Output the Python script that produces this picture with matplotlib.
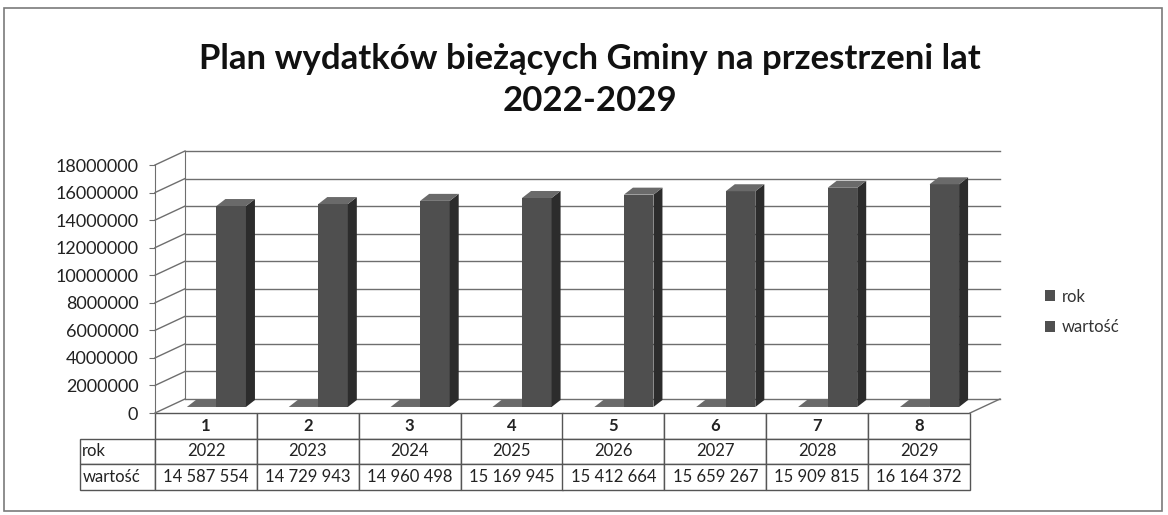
import numpy as np
import matplotlib
matplotlib.use('Agg')
from matplotlib import pyplot as plt
from matplotlib.patches import Polygon, Rectangle, Patch
from matplotlib.transforms import offset_copy

plt.rcParams['font.family'] = ['Lato', 'DejaVu Sans']

# data from the chart
categories = ['1', '2', '3', '4', '5', '6', '7', '8']
years = [2022, 2023, 2024, 2025, 2026, 2027, 2028, 2029]
values = [14587554, 14729943, 14960498, 15169945, 15412664, 15659267, 15909815, 16164372]
value_labels = ['14 587 554', '14 729 943', '14 960 498', '15 169 945',
                '15 412 664', '15 659 267', '15 909 815', '16 164 372']
series_names = ['rok', 'wartość']
yticks = list(range(0, 18000001, 2000000))

W, H = 1168, 515
fig = plt.figure(figsize=(W / 100, H / 100), dpi=100)
ax_l, ax_b, ax_w, ax_h = 155, 102, 815, 248
ax = fig.add_axes([ax_l / W, ax_b / H, ax_w / W, ax_h / H])
ymax = 18000000
ax.set_xlim(0, len(categories))
ax.set_ylim(0, ymax)

# pixel -> data conversions
sx = len(categories) / ax_w
sy = ymax / ax_h

grid_col = '#6e6e6e'
# back wall (offset up/right for the 3D look)
wdx, wdy = 30 * sx, 14 * sy
for v in yticks:
    ax.plot([wdx, len(categories) + wdx], [v + wdy, v + wdy], color=grid_col, lw=1.0, clip_on=False, zorder=1)
    ax.plot([0, wdx], [v, v + wdy], color=grid_col, lw=1.0, clip_on=False, zorder=1)
ax.plot([wdx, wdx], [wdy, ymax + wdy], color=grid_col, lw=0.8, clip_on=False, zorder=1)
ax.plot([len(categories), len(categories) + wdx], [0, wdy], color=grid_col, lw=1.0, clip_on=False, zorder=1)

# bars at middle depth
bar_tr = offset_copy(ax.transData, fig=fig, x=12, y=6, units='dots')
dsx, dsy = 9 * sx, 7 * sy
width = 0.29
x = np.arange(len(categories)) + 0.5
front_col, side_col, top_col = '#4f4f4f', '#2c2c2c', '#6a6a6a'
for off, heights in [(-0.16, years), (0.13, values)]:
    xs = x + off
    ax.bar(xs, heights, width=width, color=front_col, edgecolor='none', transform=bar_tr, zorder=3, clip_on=False)
    for xc, h in zip(xs, heights):
        x0, x1 = xc - width / 2, xc + width / 2
        ax.add_patch(Polygon([(x1, 0), (x1, h), (x1 + dsx, h + dsy), (x1 + dsx, dsy)],
                             closed=True, fc=side_col, ec='none', transform=bar_tr, zorder=3, clip_on=False))
        ax.add_patch(Polygon([(x0, h), (x1, h), (x1 + dsx, h + dsy), (x0 + dsx, h + dsy)],
                             closed=True, fc=top_col, ec='none', transform=bar_tr, zorder=3, clip_on=False))

# axis styling
for s in ['top', 'right', 'bottom']:
    ax.spines[s].set_visible(False)
ax.spines['left'].set_color(grid_col)
ax.set_yticks(yticks)
ax.set_yticklabels([str(v) for v in yticks], fontsize=13, color='#222222')
ax.tick_params(axis='y', length=4, color=grid_col, pad=8)
ax.set_xticks([])
ax.patch.set_alpha(0)

# data table under the plot
lab_w = 75
tab = ax.table(cellText=[['rok'] + [str(y) for y in years], ['wartość'] + value_labels],
               colLabels=[''] + categories,
               colWidths=[lab_w] + [ax_w / len(categories)] * len(categories),
               cellLoc='center',
               bbox=[-lab_w / ax_w, -77 / ax_h, 1 + lab_w / ax_w, 77 / ax_h])
tab.auto_set_font_size(False)
tab.set_fontsize(12)
for (r, c), cell in tab.get_celld().items():
    cell.set_edgecolor('#555555')
    cell.set_linewidth(1.0)
    cell.get_text().set_color('#222222')
    if r == 0:
        cell.get_text().set_fontweight('bold')
    if c == 0:
        cell.get_text().set_horizontalalignment('left')
        cell.PAD = 0.03
        if r == 0:
            cell.visible_edges = ''

# legend
handles = [Patch(fc=front_col, ec='none') for _ in series_names]
fig.legend(handles, series_names, loc='center left', bbox_to_anchor=(1030 / W, 1 - 312 / H),
           frameon=False, fontsize=12, handlelength=0.6, handleheight=0.6, handletextpad=0.4,
           labelspacing=0.9, labelcolor='#333333')

# title
fig.text(0.505, 1 - 80 / H, 'Plan wydatków bieżących Gminy na przestrzeni lat\n2022-2029',
         ha='center', va='center', fontsize=25, fontweight='bold', linespacing=1.4, color='#111111')

# chart border
fig.patches.append(Rectangle((4 / W, 4 / H), 1 - 10 / W, 1 - 12 / H, transform=fig.transFigure,
                             fill=False, ec='#7a7a7a', lw=1.2))

fig.savefig('out.png', dpi=100)
